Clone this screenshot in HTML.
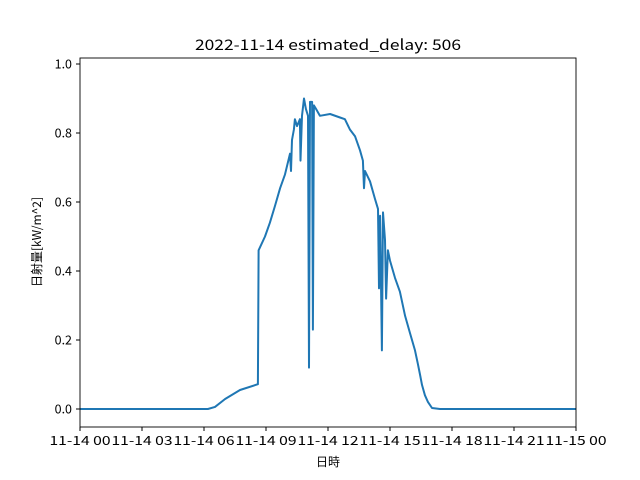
<!DOCTYPE html>
<html><head><meta charset="utf-8"><style>
body{margin:0;background:#fff}
svg{display:block;font-family:"Noto Sans CJK JP","Liberation Sans",sans-serif}
</style></head><body>
<svg id="c" width="640" height="480">
<rect width="640" height="480" fill="#fff"/>
<text x="328" y="50" font-size="14.5" text-anchor="middle" textLength="266" lengthAdjust="spacingAndGlyphs">2022-11-14 estimated_delay: 506</text>
<text x="328" y="466" font-size="12" text-anchor="middle">日時</text>
<text transform="translate(41,242) rotate(-90)" font-size="12" text-anchor="middle">日射量[kW/m^2]</text>
<g id="ticks"></g>
<polyline id="line" fill="none" stroke="#1f77b4" stroke-width="2" stroke-linejoin="round"/>
<rect x="80" y="58" width="496" height="369" fill="none" stroke="#000" stroke-width="0.9"/>
</svg>
<script>
const hours=[0,6.19,6.53,7.02,7.74,8.61,8.64,8.95,9.19,9.44,9.68,9.92,10.16,10.21,10.26,10.35,10.40,10.50,10.64,10.67,10.74,10.84,10.93,11.03,11.08,11.13,11.23,11.27,11.32,11.42,11.61,12.10,12.58,12.82,13.06,13.31,13.55,13.69,13.74,13.79,14.03,14.27,14.42,14.47,14.52,14.61,14.66,14.76,14.81,14.90,15.00,15.24,15.48,15.73,15.97,16.21,16.35,16.45,16.55,16.69,16.84,17.03,17.42,24];
const values=[0,0,0.006,0.029,0.055,0.072,0.46,0.50,0.54,0.59,0.64,0.68,0.74,0.69,0.78,0.81,0.84,0.82,0.84,0.72,0.85,0.90,0.87,0.85,0.12,0.89,0.89,0.23,0.88,0.87,0.85,0.855,0.845,0.84,0.81,0.79,0.75,0.72,0.64,0.69,0.66,0.61,0.58,0.35,0.56,0.17,0.57,0.49,0.32,0.46,0.43,0.38,0.34,0.27,0.22,0.17,0.13,0.10,0.07,0.04,0.02,0.003,0,0];
const yTicks=[0,0.2,0.4,0.6,0.8,1.0];
const yTickLabels=["0.0","0.2","0.4","0.6","0.8","1.0"];
const xTicks=[0,3,6,9,12,15,18,21,24];
const xTickLabels=["11-14 00","11-14 03","11-14 06","11-14 09","11-14 12","11-14 15","11-14 18","11-14 21","11-15 00"];
const X=h=>80+h*496/24;
const Y=v=>409-v*345;
const NS="http://www.w3.org/2000/svg";
const g=document.getElementById('ticks');
yTicks.forEach((v,i)=>{
  const l=document.createElementNS(NS,'line');
  l.setAttribute('x1',76);l.setAttribute('x2',80);l.setAttribute('y1',Y(v));l.setAttribute('y2',Y(v));l.setAttribute('stroke','#000');
  
  
  g.appendChild(l);
  const t=document.createElementNS(NS,'text');
  t.setAttribute('x',72);t.setAttribute('y',Y(v)+4.5);t.setAttribute('text-anchor','end');t.setAttribute('font-size','12.5');
  t.textContent=yTickLabels[i];
  
  
  g.appendChild(t);
});
xTicks.forEach((h,i)=>{
  const l=document.createElementNS(NS,'line');
  l.setAttribute('x1',X(h));l.setAttribute('x2',X(h));l.setAttribute('y1',427);l.setAttribute('y2',431);l.setAttribute('stroke','#000');
  
  
  g.appendChild(l);
  const t=document.createElementNS(NS,'text');
  t.setAttribute('x',X(h));t.setAttribute('y',445);t.setAttribute('text-anchor','middle');t.setAttribute('font-size','12.5');
  t.setAttribute('textLength','61');t.setAttribute('lengthAdjust','spacingAndGlyphs');
  t.textContent=xTickLabels[i];
  
  
  g.appendChild(t);
});
document.getElementById('line').setAttribute('points',hours.map((h,i)=>X(h).toFixed(1)+','+Y(values[i]).toFixed(1)).join(' '));
</script>
</body></html>
